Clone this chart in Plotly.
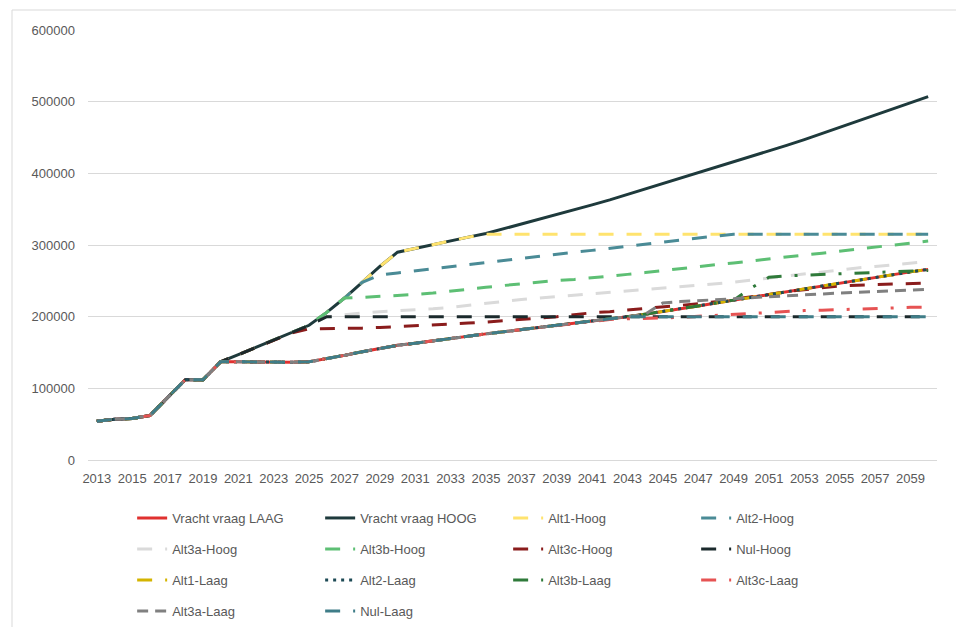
import plotly.graph_objects as go

years = list(range(2013, 2061))
tick_years = list(range(2013, 2060, 2))

# Vracht vraag
laag = [54000, 57000, 58000, 62000, 87000, 112000, 112000, 137000,
        137000, 136500, 136500, 136500, 137000,
        141000, 146000, 151000, 156000, 160000,
        163000, 166500, 170000, 173000, 176000,
        179000, 182000, 185000, 188000, 190500,
        193000, 196500, 200000, 203500, 207000,
        211000, 215000, 219000, 223000, 227000,
        231000, 235000, 239000, 243000, 247000,
        251000, 255000, 259000, 262500, 266000]
hoog = [54000, 57000, 58000, 62000, 87000, 112000, 112000, 137000,
        147000, 157000, 167000, 177000, 188000,
        206000, 226000, 248000, 270000, 290000,
        295500, 301000, 306000, 311000, 316000,
        322500, 329000, 335700, 342400, 349200,
        356000, 363000, 370500, 378000, 386000,
        393500, 401000, 408500, 416000, 423500,
        431000, 439000, 447000, 455500, 464000,
        472500, 481000, 489500, 498000, 507000]

# tails of the alternatives after they leave the base line
alt1_hoog_tail = [315000] * 26                                   # 2035-2060
alt2_hoog_tail = [258000, 261000, 264000, 267000, 270000, 273000,
                  275500, 278500, 281500, 284000, 287000, 290000,
                  292500, 295500, 298500, 301000, 304000, 307000,
                  309500, 312500, 315000] + [315000] * 11        # 2029-2060
alt3a_hoog_tail = [200000, 203000, 205000, 207000, 208000,
                   209000, 211000, 213000, 216000, 219000,
                   222000, 224000, 226000, 228000, 230000,
                   232000, 233500, 235000, 237000, 239000,
                   241000, 243000, 245000, 248000, 251000,
                   254000, 257000, 260000, 262000, 265000,
                   268000, 270000, 272000, 275000, 277000]        # 2026-2060
alt3b_hoog_tail = [226000, 227000, 228000, 229000,
                   231000, 233000, 236000, 238500, 241000,
                   243500, 246000, 248500, 250500, 252000,
                   254000, 256000, 259000, 261500, 264500,
                   267000, 270000, 272500, 275000, 278000,
                   280500, 283000, 286000, 288500, 291500,
                   294500, 297000, 299500, 302500, 305500]        # 2027-2060
alt3c_hoog_tail = [183000, 183000, 183500, 184000, 185000,
                   186000, 187000, 188000, 189500, 191000,
                   192500, 194000, 196000, 198000, 200000,
                   203000, 205500, 207000, 209000, 211000,
                   213500, 216000, 218000, 221000, 224000,
                   227000, 231000, 235000, 238000, 241000,
                   243000, 244000, 245000, 245500, 246000, 247000]  # 2025-2060
nul_hoog_tail = [200000] * 35                                    # 2026-2060
alt3b_laag_tail = [240000, 255000, 257000, 258000, 259000, 260000,
                   261000, 261500, 262000, 263000, 264500]        # 2050-2060
alt3c_laag_tail = [194000, 196000, 197000, 197500, 198000,
                   199000, 200500, 202000, 203000, 204500,
                   206000, 207500, 208500, 209000, 210000,
                   211000, 212000, 212500, 213000, 213000]        # 2041-2060
alt3a_laag_tail = [219000, 221000, 222000, 223500, 225000, 226500,
                   228000, 229500, 231000, 232000, 233000,
                   234000, 235000, 236000, 237000, 238000]        # 2045-2060
nul_laag_tail = [200000] * 17                                    # 2044-2060

alt1_hoog = hoog[:22] + alt1_hoog_tail
alt2_hoog = hoog[:16] + alt2_hoog_tail
alt3a_hoog = hoog[:13] + alt3a_hoog_tail
alt3b_hoog = hoog[:14] + alt3b_hoog_tail
alt3c_hoog = hoog[:12] + alt3c_hoog_tail
nul_hoog = hoog[:13] + nul_hoog_tail
alt1_laag = list(laag)
alt2_laag = list(laag)
alt3b_laag = laag[:37] + alt3b_laag_tail
alt3c_laag = laag[:28] + alt3c_laag_tail
alt3a_laag = laag[:32] + alt3a_laag_tail
nul_laag = laag[:31] + nul_laag_tail

LD = "15px,13px"
series = [
    ("Vracht vraag LAAG", laag, "#e0312f", "solid", "legend"),
    ("Vracht vraag HOOG", hoog, "#1e3a3c", "solid", "legend"),
    ("Alt1-Hoog", alt1_hoog, "#ffe36e", LD, "legend"),
    ("Alt2-Hoog", alt2_hoog, "#4a8b96", LD, "legend"),
    ("Alt3a-Hoog", alt3a_hoog, "#dadada", LD, "legend2"),
    ("Alt3b-Hoog", alt3b_hoog, "#5dbf74", LD, "legend2"),
    ("Alt3c-Hoog", alt3c_hoog, "#8a1c1c", LD, "legend2"),
    ("Nul-Hoog", nul_hoog, "#1b2a2c", LD, "legend2"),
    ("Alt1-Laag", alt1_laag, "#d4b400", LD, "legend3"),
    ("Alt2-Laag", alt2_laag, "#1d4a55", "3px,5px", "legend3"),
    ("Alt3b-Laag", alt3b_laag, "#2f7a3a", "15px,13px,3px,13px", "legend3"),
    ("Alt3c-Laag", alt3c_laag, "#e65353", "15px,13px,3px,13px", "legend3"),
    ("Alt3a-Laag", alt3a_laag, "#808080", "11px,7px", "legend4"),
    ("Nul-Laag", nul_laag, "#3f7d88", LD, "legend4"),
]

fig = go.Figure()
for name, vals, col, dash, leg in series:
    fig.add_trace(go.Scatter(x=years, y=vals, name=name, mode="lines",
                             line=dict(color=col, width=3, dash=dash),
                             legend=leg))

font = dict(family="Liberation Sans, Arial, sans-serif", size=13, color="#595959")

def leg_row(py):
    # py: pixel row centre from the top of the figure
    return dict(orientation="h", xref="paper", x=0.052, xanchor="left",
                yref="container", y=1 - py / 627, yanchor="middle",
                entrywidth=143, entrywidthmode="pixels", font=font,
                bgcolor="rgba(0,0,0,0)", traceorder="normal")

fig.update_layout(
    width=956, height=627, autosize=False,
    margin=dict(l=88, r=19, t=30, b=167, autoexpand=False),
    paper_bgcolor="white", plot_bgcolor="white",
    font=font,
    showlegend=True,
    legend=leg_row(518),
    legend2=leg_row(549),
    legend3=leg_row(580),
    legend4=leg_row(611),
    xaxis=dict(range=[2012.5, 2060.5], tickmode="array", tickvals=tick_years,
               ticktext=[str(y) for y in tick_years], showgrid=False,
               zeroline=False, showline=False, ticks="", ticklabelstandoff=9,
               tickfont=font),
    yaxis=dict(range=[0, 600000], dtick=100000, tickformat="d",
               showgrid=True, gridcolor="#d9d9d9", gridwidth=1,
               zeroline=True, zerolinecolor="#d9d9d9", zerolinewidth=1,
               showline=False, ticks="", ticklabelstandoff=12, tickfont=font),
    shapes=[
        dict(type="line", xref="paper", yref="paper", x0=-0.0895, x1=1.03,
             y0=1.0465, y1=1.0465, line=dict(color="#d9d9d9", width=1)),
        dict(type="line", xref="paper", yref="paper", x0=-0.0895, x1=-0.0895,
             y0=1.0465, y1=-0.4, line=dict(color="#d9d9d9", width=1)),
    ],
)

fig.write_html("out.html", config={"displayModeBar": False},
               post_script="document.body.style.margin='0';")
